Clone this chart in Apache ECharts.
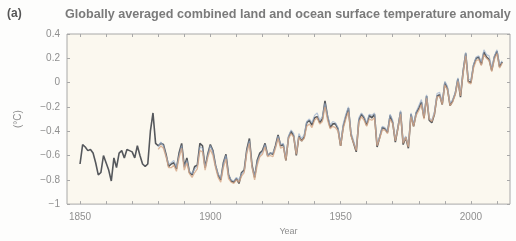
<!DOCTYPE html>
<html>
<head>
<meta charset="utf-8">
<script src="https://cdn.jsdelivr.net/npm/echarts@6/dist/echarts.min.js"></script>
<style>
html,body{margin:0;padding:0;background:#fdfdfc;}
#c{width:516px;height:241px;}
</style>
</head>
<body>
<div id="c"></div>
<script>
// Years
var yearsGray = [];
for (var y = 1850; y <= 2012; y++) yearsGray.push(y);
var yearsOther = [];
for (var y2 = 1880; y2 <= 2012; y2++) yearsOther.push(y2);

// Dark gray series 1850-2012
var grayValues = [
-0.67,-0.51,-0.53,-0.56,-0.55,-0.58,-0.66,-0.76,-0.74,-0.60,
-0.66,-0.72,-0.81,-0.62,-0.70,-0.58,-0.56,-0.62,-0.55,-0.56,
-0.57,-0.62,-0.52,-0.60,-0.67,-0.69,-0.67,-0.40,-0.25,-0.50,
-0.52,-0.50,-0.51,-0.59,-0.69,-0.67,-0.66,-0.71,-0.58,-0.50,
-0.69,-0.62,-0.74,-0.76,-0.69,-0.68,-0.50,-0.52,-0.70,-0.59,
-0.51,-0.56,-0.68,-0.76,-0.80,-0.66,-0.59,-0.76,-0.81,-0.82,
-0.79,-0.83,-0.74,-0.72,-0.55,-0.46,-0.68,-0.78,-0.64,-0.58,
-0.56,-0.50,-0.60,-0.58,-0.59,-0.52,-0.43,-0.52,-0.51,-0.64,
-0.45,-0.40,-0.44,-0.60,-0.44,-0.48,-0.45,-0.33,-0.31,-0.35,
-0.29,-0.28,-0.33,-0.30,-0.15,-0.28,-0.37,-0.34,-0.34,-0.38,
-0.52,-0.36,-0.28,-0.21,-0.43,-0.50,-0.57,-0.31,-0.26,-0.29,
-0.35,-0.27,-0.29,-0.26,-0.53,-0.45,-0.37,-0.38,-0.41,-0.27,
-0.33,-0.49,-0.37,-0.24,-0.51,-0.45,-0.54,-0.26,-0.36,-0.25,
-0.21,-0.16,-0.29,-0.11,-0.31,-0.33,-0.26,-0.11,-0.10,-0.18,
0.00,-0.05,-0.19,-0.15,-0.09,0.03,-0.12,0.09,0.24,0.01,
0.00,0.14,0.20,0.21,0.15,0.25,0.21,0.19,0.10,0.21,
0.26,0.13,0.17];

// Orange series 1880-2012
var orangeValues = [
-0.55,-0.52,-0.54,-0.61,-0.70,-0.70,-0.68,-0.73,-0.62,-0.54,
-0.72,-0.66,-0.75,-0.78,-0.74,-0.71,-0.56,-0.57,-0.72,-0.62,
-0.55,-0.60,-0.70,-0.78,-0.82,-0.70,-0.63,-0.79,-0.82,-0.83,
-0.80,-0.82,-0.77,-0.74,-0.58,-0.50,-0.70,-0.80,-0.68,-0.61,
-0.59,-0.53,-0.61,-0.60,-0.61,-0.54,-0.46,-0.54,-0.53,-0.64,
-0.46,-0.42,-0.45,-0.59,-0.45,-0.48,-0.46,-0.36,-0.34,-0.37,
-0.31,-0.29,-0.34,-0.32,-0.20,-0.31,-0.38,-0.36,-0.37,-0.40,
-0.52,-0.38,-0.30,-0.24,-0.44,-0.50,-0.56,-0.33,-0.28,-0.31,
-0.36,-0.30,-0.31,-0.29,-0.52,-0.46,-0.39,-0.39,-0.42,-0.30,
-0.34,-0.48,-0.38,-0.26,-0.50,-0.45,-0.53,-0.28,-0.36,-0.27,
-0.23,-0.18,-0.30,-0.13,-0.30,-0.32,-0.26,-0.12,-0.11,-0.18,
-0.02,-0.06,-0.19,-0.16,-0.10,0.01,-0.11,0.07,0.22,0.00,
-0.01,0.12,0.18,0.19,0.14,0.23,0.20,0.18,0.09,0.19,
0.24,0.12,0.16];

// Blue series 1880-2012
var blueValues = [
-0.53,-0.49,-0.52,-0.60,-0.67,-0.66,-0.64,-0.70,-0.60,-0.52,
-0.70,-0.64,-0.73,-0.75,-0.71,-0.69,-0.53,-0.54,-0.70,-0.60,
-0.52,-0.57,-0.68,-0.75,-0.79,-0.67,-0.60,-0.76,-0.80,-0.81,
-0.78,-0.80,-0.75,-0.73,-0.56,-0.48,-0.69,-0.77,-0.65,-0.60,
-0.57,-0.51,-0.60,-0.58,-0.58,-0.53,-0.44,-0.51,-0.50,-0.62,
-0.44,-0.39,-0.42,-0.58,-0.42,-0.46,-0.43,-0.32,-0.30,-0.33,
-0.27,-0.25,-0.31,-0.28,-0.17,-0.27,-0.35,-0.32,-0.33,-0.37,
-0.50,-0.34,-0.26,-0.20,-0.41,-0.48,-0.55,-0.29,-0.25,-0.28,
-0.33,-0.26,-0.27,-0.25,-0.51,-0.44,-0.36,-0.37,-0.40,-0.26,
-0.31,-0.47,-0.36,-0.23,-0.49,-0.44,-0.52,-0.25,-0.34,-0.24,
-0.19,-0.14,-0.27,-0.10,-0.29,-0.31,-0.24,-0.09,-0.08,-0.16,
0.01,-0.03,-0.17,-0.14,-0.08,0.04,-0.09,0.10,0.25,0.03,
0.02,0.15,0.21,0.22,0.17,0.27,0.23,0.22,0.12,0.22,
0.27,0.15,0.18];

var xLabelValues = [1850, 1900, 1950, 2000];
var xTickValues = [1850,1860,1870,1880,1890,1900,1910,1920,1930,1940,1950,1960,1970,1980,1990,2000,2010];
var titleText = 'Globally averaged combined land and ocean surface temperature anomaly';
var panelLabel = '(a)';
var yName = '(\u00B0C)';
var xName = 'Year';

function pairs(xs, ys) {
  return xs.map(function (x, i) { return [x, ys[i]]; });
}

var chart = echarts.init(document.getElementById('c'), null, {renderer: 'canvas'});
var labelColor = '#8f8f8f';
var axisLineColor = '#a8a8a8';

chart.setOption({
  backgroundColor: '#fdfdfc',
  animation: false,
  graphic: [
    {type: 'text', left: 7, top: 8, style: {text: panelLabel, fontSize: 12, fontFamily: 'Liberation Sans', fill: '#555', fontWeight: 'bold'}},
    {type: 'text', left: 65, top: 8, style: {text: titleText, fontSize: 12.6, fontFamily: 'Liberation Sans', fill: '#7a7a7a', fontWeight: 'bold'}}
  ],
  grid: {left: 67, right: 6, top: 34, bottom: 29, show: true, backgroundColor: '#fbf8ef', borderColor: axisLineColor, borderWidth: 1},
  xAxis: [{
    type: 'value', min: 1845, max: 2015,
    name: xName, nameLocation: 'middle', nameGap: 20,
    nameTextStyle: {color: labelColor, fontSize: 9, fontFamily: 'Liberation Sans'},
    axisLine: {show: false, onZero: false},
    splitLine: {show: false},
    axisTick: {show: true, inside: true, length: 3, lineStyle: {color: axisLineColor}, customValues: xTickValues},
    axisLabel: {color: labelColor, fontSize: 10, fontFamily: 'Liberation Sans', margin: 8, customValues: xLabelValues,
      formatter: function (v) { return String(v); }}
  }, {
    type: 'value', min: 1845, max: 2015, position: 'top',
    axisLine: {show: false, onZero: false}, splitLine: {show: false},
    axisTick: {show: true, inside: true, length: 3, lineStyle: {color: axisLineColor}, customValues: xTickValues},
    axisLabel: {show: false}
  }],
  yAxis: [{
    type: 'value', min: -1, max: 0.4, interval: 0.2,
    name: yName, nameLocation: 'middle', nameGap: 44, nameRotate: 90,
    nameTextStyle: {color: labelColor, fontSize: 10, fontFamily: 'Liberation Sans'},
    axisLine: {show: false, onZero: false}, splitLine: {show: false},
    axisTick: {show: true, inside: true, length: 3, lineStyle: {color: axisLineColor}},
    axisLabel: {color: labelColor, fontSize: 10, fontFamily: 'Liberation Sans', margin: 7,
      formatter: function (v) {
        var r = Math.round(v * 10) / 10;
        if (r === 0) return '0';
        if (r === -1) return '\u22121';
        return (r < 0 ? '\u2212' : '') + Math.abs(r).toFixed(1);
      }}
  }, {
    type: 'value', min: -1, max: 0.4, interval: 0.2, position: 'right',
    axisLine: {show: false, onZero: false}, splitLine: {show: false},
    axisTick: {show: true, inside: true, length: 3, lineStyle: {color: axisLineColor}},
    axisLabel: {show: false}
  }],
  series: [
    {type: 'line', xAxisIndex: 0, yAxisIndex: 0, data: pairs(yearsGray, grayValues), showSymbol: false,
      lineStyle: {color: '#55585c', width: 1.6}, z: 2},
    {type: 'line', xAxisIndex: 0, yAxisIndex: 0, data: pairs(yearsOther, blueValues), showSymbol: false,
      lineStyle: {color: '#98aecb', width: 1.2, opacity: 0.7}, z: 3},
    {type: 'line', xAxisIndex: 0, yAxisIndex: 0, data: pairs(yearsOther, orangeValues), showSymbol: false,
      lineStyle: {color: '#d4a584', width: 1.3, opacity: 0.8}, z: 4}
  ]
});
</script>
</body>
</html>
